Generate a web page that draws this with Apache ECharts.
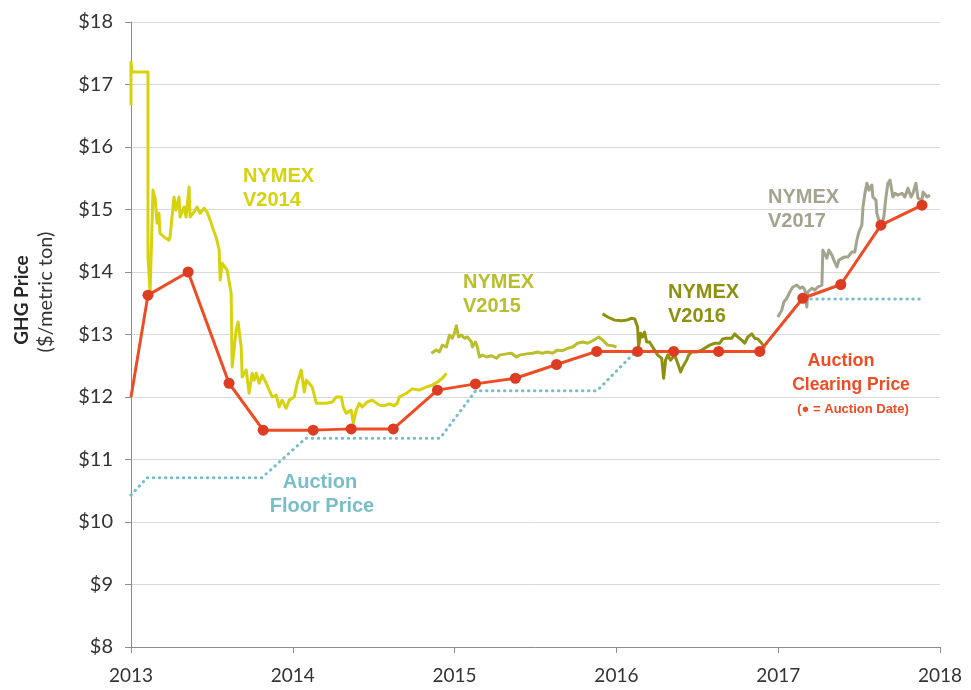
<!DOCTYPE html>
<html>
<head>
    <meta charset="utf-8">
    <title>GHG Price</title>
    <script src="https://cdn.jsdelivr.net/npm/echarts@6/dist/echarts.min.js"></script>
    <style>
        html, body { margin: 0; padding: 0; background: #ffffff; }
        #main { width: 971px; height: 690px; }
    </style>
</head>
<body>
<div id="main"></div>
<script>
    // x = decimal year, y = $/metric ton
    var yearTicks = [2013, 2014, 2015, 2016, 2017, 2018];

    var v2014 = [[2013.0, 16.67], [2013.0, 17.36], [2013.006, 17.20], [2013.105, 17.20], [2013.105, 14.24],
        [2013.118, 13.68], [2013.136, 15.31], [2013.149, 15.18], [2013.161, 14.78], [2013.173, 14.94],
        [2013.179, 14.62], [2013.204, 14.56], [2013.235, 14.51], [2013.241, 14.56], [2013.266, 15.20],
        [2013.278, 14.99], [2013.297, 15.20], [2013.303, 14.88], [2013.328, 15.04], [2013.340, 14.88],
        [2013.359, 15.36], [2013.365, 14.88], [2013.390, 14.96], [2013.408, 15.04], [2013.427, 14.94],
        [2013.452, 15.02], [2013.470, 14.96], [2013.489, 14.83], [2013.514, 14.64], [2013.526, 14.56],
        [2013.545, 14.35], [2013.551, 13.87], [2013.563, 14.14], [2013.594, 14.03], [2013.619, 13.66],
        [2013.625, 12.48], [2013.650, 13.07], [2013.662, 13.20], [2013.681, 12.80], [2013.687, 12.32],
        [2013.712, 12.43], [2013.730, 12.06], [2013.749, 12.38], [2013.761, 12.27], [2013.774, 12.38],
        [2013.792, 12.22], [2013.811, 12.35], [2013.836, 12.22], [2013.854, 12.11], [2013.873, 12.00],
        [2013.897, 12.03], [2013.916, 11.84], [2013.934, 11.95], [2013.959, 11.82], [2013.978, 11.95],
        [2014.009, 12.00], [2014.027, 12.22], [2014.052, 12.43], [2014.071, 12.08], [2014.083, 12.27],
        [2014.101, 12.22], [2014.120, 12.16], [2014.145, 11.90], [2014.163, 11.90], [2014.207, 11.90],
        [2014.244, 11.92], [2014.269, 12.00], [2014.300, 12.00], [2014.312, 11.84], [2014.330, 11.74],
        [2014.361, 11.79], [2014.374, 11.58], [2014.392, 11.79], [2014.411, 11.90], [2014.429, 11.84],
        [2014.460, 11.92], [2014.491, 11.95], [2014.535, 11.87], [2014.566, 11.86], [2014.597, 11.89],
        [2014.627, 11.86], [2014.646, 11.90], [2014.658, 12.00], [2014.702, 12.06], [2014.739, 12.13],
        [2014.782, 12.11], [2014.826, 12.16], [2014.863, 12.19], [2014.894, 12.24], [2014.925, 12.30],
        [2014.949, 12.38]];

    var v2015 = [[2014.856, 12.70], [2014.887, 12.75], [2014.906, 12.72], [2014.924, 12.83], [2014.949, 12.80],
        [2014.968, 12.99], [2014.986, 12.94], [2014.999, 13.02], [2015.011, 13.14], [2015.024, 12.96],
        [2015.042, 12.99], [2015.061, 12.94], [2015.080, 12.96], [2015.104, 12.88], [2015.110, 12.80],
        [2015.129, 12.88], [2015.141, 12.80], [2015.153, 12.64], [2015.172, 12.67], [2015.197, 12.64],
        [2015.228, 12.66], [2015.259, 12.62], [2015.277, 12.67], [2015.321, 12.69], [2015.351, 12.70],
        [2015.382, 12.64], [2015.401, 12.67], [2015.444, 12.69], [2015.481, 12.70], [2015.512, 12.72],
        [2015.543, 12.70], [2015.574, 12.72], [2015.605, 12.70], [2015.636, 12.75], [2015.667, 12.74],
        [2015.698, 12.78], [2015.729, 12.80], [2015.760, 12.86], [2015.791, 12.88], [2015.822, 12.86],
        [2015.853, 12.90], [2015.890, 12.96], [2015.915, 12.91], [2015.946, 12.83], [2015.977, 12.82],
        [2016.001, 12.80]];

    var v2016 = [[2015.915, 13.33], [2015.946, 13.28], [2015.989, 13.23], [2016.032, 13.22], [2016.063, 13.23],
        [2016.094, 13.26], [2016.113, 13.25], [2016.131, 13.12], [2016.137, 12.80], [2016.150, 13.02],
        [2016.162, 12.96], [2016.174, 13.04], [2016.187, 12.88], [2016.205, 12.88], [2016.224, 12.80],
        [2016.236, 12.75], [2016.255, 12.67], [2016.280, 12.62], [2016.292, 12.30], [2016.304, 12.59],
        [2016.317, 12.67], [2016.335, 12.59], [2016.360, 12.67], [2016.379, 12.54], [2016.397, 12.40],
        [2016.410, 12.48], [2016.434, 12.59], [2016.447, 12.67], [2016.465, 12.72], [2016.496, 12.72],
        [2016.527, 12.75], [2016.558, 12.80], [2016.577, 12.83], [2016.608, 12.86], [2016.639, 12.86],
        [2016.657, 12.93], [2016.682, 12.94], [2016.713, 12.94], [2016.731, 13.01], [2016.750, 12.96],
        [2016.775, 12.91], [2016.793, 12.86], [2016.812, 12.96], [2016.837, 13.01], [2016.855, 12.94],
        [2016.874, 12.93], [2016.898, 12.86], [2016.917, 12.78]];

    var v2017 = [[2016.998, 13.28], [2017.022, 13.39], [2017.035, 13.52], [2017.053, 13.58], [2017.072, 13.68],
        [2017.090, 13.76], [2017.115, 13.79], [2017.134, 13.74], [2017.152, 13.76], [2017.165, 13.71],
        [2017.177, 13.44], [2017.183, 13.68], [2017.208, 13.74], [2017.226, 13.71], [2017.245, 13.76],
        [2017.270, 13.79], [2017.276, 14.35], [2017.288, 14.32], [2017.301, 14.22], [2017.313, 14.35],
        [2017.332, 14.27], [2017.344, 14.19], [2017.363, 14.08], [2017.375, 14.19], [2017.394, 14.22],
        [2017.412, 14.24], [2017.431, 14.24], [2017.455, 14.32], [2017.474, 14.32], [2017.486, 14.51],
        [2017.499, 14.64], [2017.517, 14.75], [2017.524, 15.04], [2017.536, 15.26], [2017.548, 15.42],
        [2017.561, 15.31], [2017.579, 15.39], [2017.585, 15.20], [2017.604, 15.15], [2017.610, 14.94],
        [2017.622, 14.83], [2017.641, 14.78], [2017.653, 14.88], [2017.666, 15.20], [2017.678, 15.42],
        [2017.691, 15.47], [2017.709, 15.20], [2017.722, 15.26], [2017.740, 15.23], [2017.765, 15.26],
        [2017.783, 15.20], [2017.802, 15.34], [2017.821, 15.20], [2017.833, 15.26], [2017.851, 15.42],
        [2017.864, 15.18], [2017.889, 15.15], [2017.895, 15.28], [2017.920, 15.20], [2017.938, 15.23]];

    var floorPrice = [[2013.0, 10.43], [2013.10, 10.71], [2013.81, 10.71], [2014.08, 11.34], [2014.91, 11.34],
        [2015.13, 12.10], [2015.88, 12.10], [2016.12, 12.73], [2016.89, 12.73], [2017.15, 13.57],
        [2017.89, 13.57]];

    // line enters the chart at its left edge, auctions follow
    var clearingStart = [2013.0, 12.0];
    var auctionDates = [2013.105, 2013.353, 2013.606, 2013.817, 2014.126, 2014.361, 2014.621, 2014.894,
        2015.129, 2015.376, 2015.630, 2015.878, 2016.131, 2016.354, 2016.632, 2016.886,
        2017.152, 2017.387, 2017.635, 2017.889];
    var clearingPrices = [13.63, 14.00, 12.22, 11.47, 11.47, 11.49, 11.49, 12.11,
        12.21, 12.30, 12.52, 12.73, 12.73, 12.73, 12.73, 12.73,
        13.58, 13.80, 14.75, 15.07];

    var clearingData = [{value: clearingStart, symbol: 'none'}];
    auctionDates.forEach(function (d, i) {
        clearingData.push([d, clearingPrices[i]]);
    });

    var chart = echarts.init(document.getElementById('main'), null, {renderer: 'canvas'});

    function futuresLine(name, data, color) {
        return {
            name: name,
            type: 'line',
            data: data,
            showSymbol: false,
            symbol: 'none',
            lineStyle: {color: color, width: 3, join: 'round'}
        };
    }

    function label(text, x, y, color, size, align) {
        return {
            type: 'text',
            x: x,
            y: y,
            style: {
                text: text,
                fill: color,
                font: 'bold ' + size + 'px "Liberation Sans", Arial, sans-serif',
                textAlign: align || 'left',
                textVerticalAlign: 'top'
            }
        };
    }

    var option = {
        backgroundColor: '#ffffff',
        animation: false,
        grid: {left: 131, right: 31, top: 22, bottom: 43},
        xAxis: {
            type: 'value',
            min: 2013,
            max: 2018,
            interval: 1,
            axisLine: {lineStyle: {color: '#8c8c8c', width: 1}},
            axisTick: {show: true, length: 6, lineStyle: {color: '#8c8c8c'}},
            axisLabel: {
                color: '#333333',
                fontSize: 19,
                fontFamily: 'Lato, "Open Sans", sans-serif',
                margin: 19,
                formatter: function (v) { return yearTicks.indexOf(v) >= 0 ? String(v) : ''; }
            },
            splitLine: {show: false}
        },
        yAxis: {
            type: 'value',
            min: 8,
            max: 18,
            interval: 1,
            axisLine: {show: true, lineStyle: {color: '#8c8c8c', width: 1}},
            axisTick: {show: true, length: 6, lineStyle: {color: '#8c8c8c'}},
            axisLabel: {
                color: '#333333',
                fontSize: 20,
                fontFamily: 'Lato, "Open Sans", sans-serif',
                margin: 18,
                formatter: '${value}'
            },
            splitLine: {lineStyle: {color: '#d9d9d9', width: 1}}
        },
        series: [
            {
                name: 'Auction Floor Price',
                type: 'line',
                data: floorPrice,
                symbol: 'none',
                lineStyle: {color: '#79bdc8', width: 3, type: [0.5, 5.5], cap: 'round'}
            },
            futuresLine('NYMEX V2014', v2014, '#d7d20e'),
            futuresLine('NYMEX V2015', v2015, '#b9be2c'),
            futuresLine('NYMEX V2016', v2016, '#8e9012'),
            futuresLine('NYMEX V2017', v2017, '#a3a38e'),
            {
                name: 'Auction Clearing Price',
                type: 'line',
                data: clearingData,
                symbol: 'circle',
                symbolSize: 11,
                itemStyle: {color: '#dc3c22'},
                lineStyle: {color: '#ef4b24', width: 3}
            }
        ],
        graphic: [
            {
                type: 'text',
                x: 22,
                y: 300,
                rotation: Math.PI / 2,
                style: {
                    text: 'GHG Price',
                    fill: '#262626',
                    font: 'bold 19px Lato, "Open Sans", sans-serif',
                    textAlign: 'center',
                    textVerticalAlign: 'middle'
                }
            },
            {
                type: 'text',
                x: 46,
                y: 292,
                rotation: Math.PI / 2,
                style: {
                    text: '($/metric ton)',
                    fill: '#333333',
                    font: '20px Lato, "Open Sans", sans-serif',
                    textAlign: 'center',
                    textVerticalAlign: 'middle'
                }
            },
            label('NYMEX', 243, 166, '#d7d20e', 20),
            label('V2014', 243, 190, '#d7d20e', 20),
            label('NYMEX', 463, 272, '#b9be2c', 20),
            label('V2015', 463, 296, '#b9be2c', 20),
            label('NYMEX', 668, 282, '#8e9012', 20),
            label('V2016', 668, 306, '#8e9012', 20),
            label('NYMEX', 768, 187, '#a3a38e', 20),
            label('V2017', 768, 211, '#a3a38e', 20),
            label('Auction', 320, 472, '#79bdc8', 20, 'center'),
            label('Floor Price', 322, 496, '#79bdc8', 20, 'center'),
            label('Auction', 841, 352, '#ef4b24', 18, 'center'),
            label('Clearing Price', 851, 376, '#ef4b24', 17.5, 'center'),
            label('(\u25cf = Auction Date)', 853, 403, '#ef4b24', 13, 'center')
        ]
    };

    chart.setOption(option);
</script>
</body>
</html>
